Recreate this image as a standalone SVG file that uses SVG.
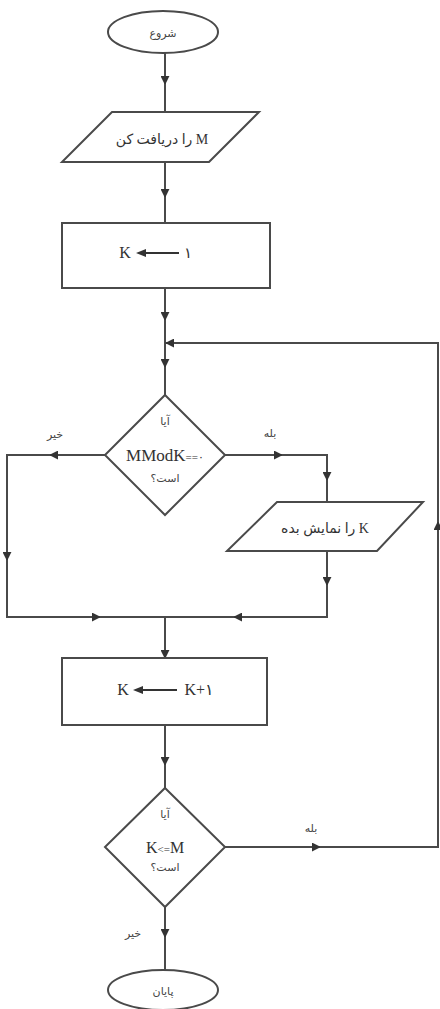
<svg xmlns="http://www.w3.org/2000/svg" width="440" height="1009" viewBox="0 0 440 1009">
<style>
.sh{fill:#fff;stroke:#4a4a4a;stroke-width:2}
.cn{fill:none;stroke:#4a4a4a;stroke-width:2}
.t{font-family:"Liberation Serif","DejaVu Sans",serif;fill:#333;text-anchor:middle}
.fa{font-family:"DejaVu Sans","Noto Sans",sans-serif;fill:#444;text-anchor:middle;font-size:11px}
.ah{fill:#333}
</style>
<defs>
<marker id="a" viewBox="0 0 10 10" refX="9" refY="5" markerWidth="9" markerHeight="9" markerUnits="userSpaceOnUse" orient="auto">
<path d="M0,0 L10,5 L0,10 z" fill="#333"/>
</marker>
</defs>
<rect width="440" height="1009" fill="#fff"/>
<g id="connectors">
<path class="cn" d="M165,53 V84" marker-end="url(#a)"/><path class="cn" d="M165,84 V112"/>
<path class="cn" d="M165,162 V197" marker-end="url(#a)"/><path class="cn" d="M165,197 V223"/>
<path class="cn" d="M165,288 V320" marker-end="url(#a)"/><path class="cn" d="M165,320 V367" marker-end="url(#a)"/><path class="cn" d="M165,367 V395"/>
<path class="cn" d="M225,847 H320" marker-end="url(#a)"/><path class="cn" d="M320,847 H438 V522" marker-end="url(#a)"/><path class="cn" d="M438,522 V343 H166" marker-end="url(#a)"/>
<path class="cn" d="M105,455 H50" marker-end="url(#a)"/><path class="cn" d="M50,455 H7 V560" marker-end="url(#a)"/><path class="cn" d="M7,560 V617 H100" marker-end="url(#a)"/><path class="cn" d="M100,617 H165"/>
<path class="cn" d="M225,455 H282" marker-end="url(#a)"/><path class="cn" d="M282,455 H327 V480" marker-end="url(#a)"/><path class="cn" d="M327,480 V502"/>
<path class="cn" d="M327,551 V585" marker-end="url(#a)"/><path class="cn" d="M327,585 V617 H234" marker-end="url(#a)"/><path class="cn" d="M234,617 H165"/>
<path class="cn" d="M165,617 V658" marker-end="url(#a)"/>
<path class="cn" d="M165,725 V765" marker-end="url(#a)"/><path class="cn" d="M165,765 V788"/>
<path class="cn" d="M165,907 V937" marker-end="url(#a)"/><path class="cn" d="M165,937 V970"/>
<text class="fa" x="55" y="438">خیر</text>
<text class="fa" x="270" y="437">بله</text>
<text class="fa" x="311" y="832">بله</text>
<text class="fa" x="133" y="937">خیر</text>
</g>
<g id="start">
<ellipse class="sh" cx="163" cy="32" rx="55" ry="21"/>
<text class="fa" x="163" y="37" font-size="13">شروع</text>
</g>
<g id="input-m">
<polygon class="sh" points="112,112 259,112 209,162 62,162"/>
<text class="t" x="162" y="144" font-size="14" direction="rtl">M را دریافت کن</text>
</g>
<g id="init-k">
<rect class="sh" x="62" y="223" width="208" height="65"/>
<text class="t" x="125" y="258" font-size="16">K</text>
<line x1="142" y1="253" x2="179" y2="253" stroke="#333" stroke-width="2"/>
<polygon class="ah" points="136,253 146,249 146,257"/>
<text class="t" x="188" y="258" font-size="15">۱</text>
</g>
<g id="cond-mod">
<polygon class="sh" points="165,395 225,455 165,515 105,455"/>
<text class="fa" x="165" y="425" font-size="12">آیا</text>
<text class="t" x="165" y="461" font-size="17">MModK<tspan font-size="11">==۰</tspan></text>
<text class="fa" x="165" y="482">است؟</text>
</g>
<g id="show-k">
<polygon class="sh" points="277,502 423,502 377,551 227,551"/>
<text class="t" x="325" y="533" font-size="14" direction="rtl">K را نمایش بده</text>
</g>
<g id="inc-k">
<rect class="sh" x="62" y="658" width="205" height="67"/>
<text class="t" x="123" y="695" font-size="16">K</text>
<line x1="138" y1="690" x2="177" y2="690" stroke="#333" stroke-width="2"/>
<polygon class="ah" points="133,690 143,686 143,694"/>
<text class="t" x="199" y="695" font-size="16">K+۱</text>
</g>
<g id="cond-km">
<polygon class="sh" points="165,788 225,847 165,907 105,847"/>
<text class="fa" x="165" y="818" font-size="12">آیا</text>
<text class="t" x="165" y="853" font-size="16">K<tspan font-size="11">&lt;=</tspan>M</text>
<text class="fa" x="165" y="871">است؟</text>
</g>
<g id="end">
<ellipse class="sh" cx="163" cy="990" rx="55" ry="20"/>
<text class="fa" x="163" y="995" font-size="13">پایان</text>
</g>
</svg>
